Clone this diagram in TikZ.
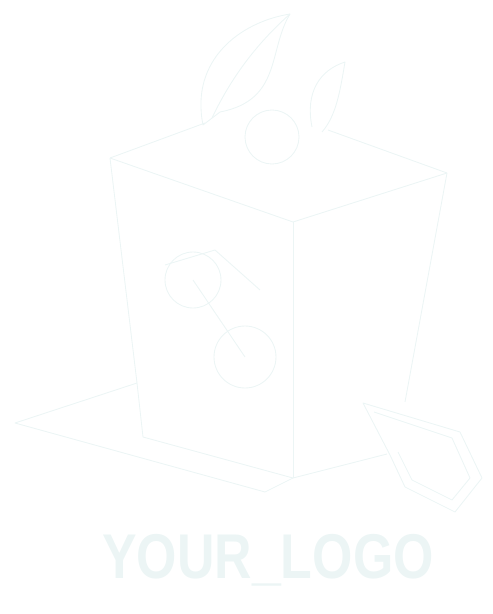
\documentclass[tikz,border=0pt]{standalone}
\usepackage{fontspec}
\setmainfont{Liberation Sans}
\definecolor{ghost}{RGB}{236,245,245}
\definecolor{ghostfill}{RGB}{250,252,252}
\tikzset{ghostline/.style={draw=ghost,line width=0.25pt,line join=round},
logotext/.style={text=ghost,font=\bfseries\fontsize{18pt}{18pt}\selectfont,inner sep=0pt}}
\begin{document}
\begin{tikzpicture}[x=0.1mm,y=-0.1mm]
\useasboundingbox(0,0)rectangle(492,614);
\draw[ghostline](110,158)coordinate(lt)--(293,222)coordinate(ft)--(447,173)coordinate(rt);
\draw[ghostline](lt)--(205,123)coordinate(bl);
\draw[ghostline](328,130)coordinate(br)--(rt);
\draw[ghostline](lt)--(137,383)coordinate(lm)--(143,437)coordinate(lb)--(293,478)coordinate(fb)--(387,454)coordinate(rb);
\draw[ghostline](ft)--(fb);
\draw[ghostline](rt)--(405,402)coordinate(rm);
\draw[ghostline](lm)--(15,423)coordinate(fl)--(265,492)coordinate(fr)--(fb);
\draw[ghostline](363,403)coordinate(h1)--(460,432)coordinate(h2)--(482,478)coordinate(h3)--(455,512)coordinate(h4)--(405,487)coordinate(h5)--(390,455)coordinate(h6)--cycle;
\draw[ghostline](374,412)--(452,438)--(470,478)--(452,500)--(412,480)--(398,452);
\draw[ghostline](272,137)coordinate(ap)circle[radius=27];
\draw[ghostline](203,125)..controls(190,60)and(240,22)..(290,14)coordinate(tip)..controls(268,50)and(282,100)..(220,112)--cycle;
\draw[ghostline](212,118)..controls(230,80)and(255,45)..(tip);
\draw[ghostline](312,127)..controls(305,92)and(320,70)..(345,62)coordinate(tip2)..controls(340,92)and(336,116)..(322,132);
\draw[ghostline](193,280)coordinate(c1)circle[radius=28];
\draw[ghostline](245,357)coordinate(c2)circle[radius=31];
\draw[ghostline](c1)--(c2);
\draw[ghostline](165,265)--(215,250)--(260,290);
\node[logotext,anchor=base](logo)at(268,578){\scalebox{0.82}[1]{YOUR\_LOGO}};
\end{tikzpicture}
\end{document}
